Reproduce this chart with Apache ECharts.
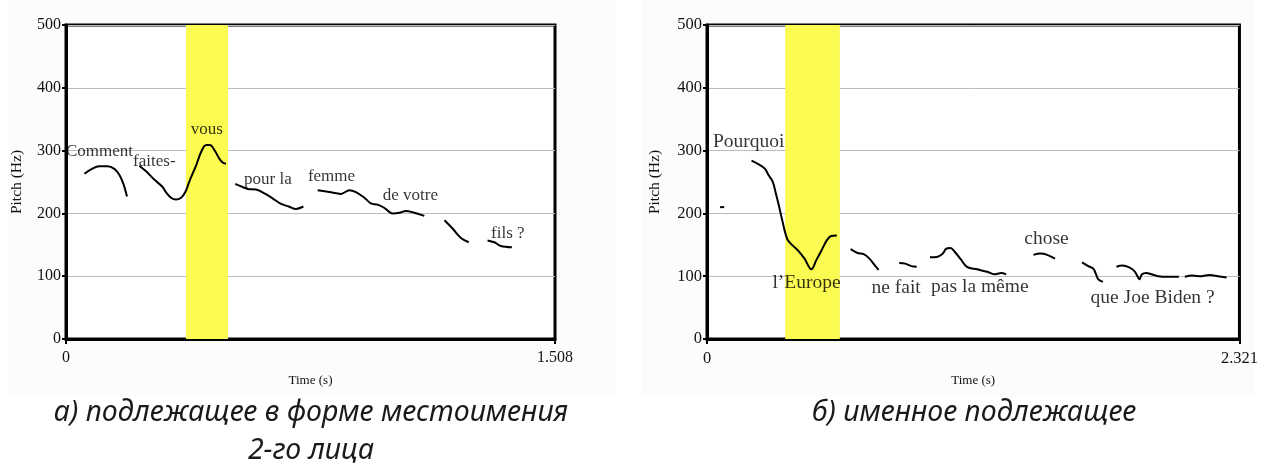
<!DOCTYPE html>
<html>
<head>
<meta charset="utf-8">
<script src="https://cdn.jsdelivr.net/npm/echarts@6/dist/echarts.min.js"></script>
<style>
html,body{margin:0;padding:0;background:#fff;}
#chart{width:1261px;height:475px;}
</style>
</head>
<body>
<div id="chart"></div>
<script>
// ---------- data: panel a ----------
const leftMaxT = 1.508;
const leftHighlight = [0.370, 0.4995];
const leftSeg1 = [[0.057,263],[0.077,270],[0.103,275],[0.128,275],[0.149,271],[0.164,262],[0.177,247],[0.188,227]];
const leftSeg2 = [[0.226,276],[0.247,267],[0.272,254],[0.298,242],[0.308,234],[0.324,225],[0.339,222],[0.355,225],[0.368,234],[0.382,253],[0.401,276],[0.416,297],[0.432,309],[0.444,309],[0.460,299],[0.473,287],[0.483,281],[0.493,279]];
const leftSeg3 = [[0.522,247],[0.540,243],[0.560,239],[0.586,238],[0.612,232],[0.637,224],[0.663,215],[0.687,211],[0.709,207],[0.732,211]];
const leftSeg4 = [[0.776,237],[0.812,234],[0.848,231],[0.874,237],[0.894,234],[0.920,225],[0.940,216],[0.961,214],[0.981,209],[1.007,200],[1.028,201],[1.048,204],[1.074,201],[1.105,196]];
const leftSeg5 = [[1.167,189],[1.192,176],[1.218,161],[1.242,154]];
const leftSeg6 = [[1.300,157],[1.321,154],[1.341,148],[1.375,146]];
const leftWords = ['Comment','faites-','vous','pour la','femme','de votre','fils ?'];
const leftWordT = [0.0, 0.207, 0.385, 0.549, 0.746, 0.977, 1.311];
const leftWordHz = [299, 283, 334, 254, 258, 228, 168];

// ---------- data: panel b ----------
const rightMaxT = 2.321;
const rightHighlight = [0.341, 0.579];
const rightSeg1 = [[0.057,210],[0.075,210]];
const rightSeg2 = [[0.194,284],[0.231,277],[0.253,271],[0.268,261],[0.286,251],[0.298,235],[0.313,213],[0.328,189],[0.350,159],[0.373,149],[0.399,140],[0.425,128],[0.455,111],[0.477,126],[0.499,141],[0.522,157],[0.541,164],[0.566,165]];
const rightSeg3 = [[0.626,143],[0.656,137],[0.683,135],[0.708,128],[0.730,118],[0.748,110]];
const rightSeg4 = [[0.838,121],[0.864,120],[0.891,116],[0.914,115]];
const rightSeg5 = [[0.972,130],[1.006,131],[1.028,136],[1.043,144],[1.061,145],[1.080,139],[1.106,127],[1.133,115],[1.177,111],[1.222,107],[1.252,103],[1.282,105],[1.304,103]];
const rightSeg6 = [[1.423,134],[1.453,136],[1.483,134],[1.517,128]];
const rightSeg7 = [[1.635,122],[1.662,116],[1.684,112],[1.696,103],[1.706,95],[1.726,91]];
const rightSeg8 = [[1.785,115],[1.811,117],[1.841,114],[1.863,108],[1.878,99],[1.885,95],[1.896,103],[1.915,105],[1.937,103],[1.967,100],[2.004,99],[2.057,99]];
const rightSeg9 = [[2.083,99],[2.116,101],[2.154,100],[2.191,102],[2.228,100],[2.265,98]];
const rightWords = ['Pourquoi','l\u2019Europe','ne fait','pas la même','chose','que Joe Biden ?'];
const rightWordT = [0.026, 0.285, 0.717, 0.977, 1.383, 1.672];
const rightWordHz = [314, 90, 81, 83, 159, 65];

const yTicks = [0,100,200,300,400,500];
const yName = 'Pitch (Hz)';
const xName = 'Time (s)';
const captionA1 = 'а) подлежащее в форме местоимения';
const captionA2 = '2-го лица';
const captionB = 'б) именное подлежащее';

// ---------- build ----------
const serif = '"Liberation Serif","Times New Roman",serif';
function xAxisFor(idx, maxT, fs){
  return {
    type:'value', gridIndex:idx, min:0, max:maxT, interval:maxT,
    name:xName, nameLocation:'middle', nameGap:35,
    nameTextStyle:{fontFamily:serif,fontSize:13,color:'#111'},
    axisLine:{show:true,onZero:false,lineStyle:{color:'#000',width:3}},
    axisTick:{show:true,length:5,lineStyle:{color:'#000',width:2}},
    axisLabel:{fontFamily:serif,fontSize:fs,color:'#111',margin:11,
      formatter:v=> v===0 ? '0' : maxT.toFixed(3)},
    splitLine:{show:false}
  };
}
function yAxisFor(idx, gap, fs){
  return {
    type:'value', gridIndex:idx, min:yTicks[0], max:yTicks[yTicks.length-1], interval:100,
    name:yName, nameLocation:'middle', nameGap:gap, nameRotate:90,
    nameTextStyle:{fontFamily:serif,fontSize:15.5,color:'#111'},
    axisLine:{show:true,lineStyle:{color:'#000',width:3}},
    axisTick:{show:true,length:4,lineStyle:{color:'#000',width:2}},
    axisLabel:{fontFamily:serif,fontSize:fs,color:'#111',margin:5},
    splitLine:{show:true,lineStyle:{color:'#bdbdbd',width:1}}
  };
}
function lineSeries(idx, data, highlight){
  const s = {
    type:'line', xAxisIndex:idx, yAxisIndex:idx, data:data,
    showSymbol:false, symbol:'none', smooth:0.35, silent:true,
    lineStyle:{color:'#000',width:2}, z:5
  };
  if (highlight){
    s.markArea = {silent:true, itemStyle:{color:'#fbfb52',opacity:1},
      data:[[{xAxis:highlight[0]},{xAxis:highlight[1]}]]};
  }
  return s;
}
function wordSeries(idx, words, ts, hzs, fs){
  return {
    type:'scatter', xAxisIndex:idx, yAxisIndex:idx, symbolSize:0, silent:true, z:6,
    data: words.map((w,i)=>({value:[ts[i], hzs[i]], name:w})),
    label:{show:true, position:'right', distance:0, formatter:p=>p.name,
      fontFamily:serif, fontSize:fs, color:'#000'}
  };
}

const series = [];
[leftSeg1,leftSeg2,leftSeg3,leftSeg4,leftSeg5,leftSeg6].forEach((d,i)=>series.push(lineSeries(0,d,i===0?leftHighlight:null)));
series.push(wordSeries(0,leftWords,leftWordT,leftWordHz,17));
[rightSeg1,rightSeg2,rightSeg3,rightSeg4,rightSeg5,rightSeg6,rightSeg7,rightSeg8,rightSeg9].forEach((d,i)=>series.push(lineSeries(1,d,i===0?rightHighlight:null)));
series.push(wordSeries(1,rightWords,rightWordT,rightWordHz,19.5));

const capFont = '"Noto Sans","Open Sans",sans-serif';
const option = {
  animation:false,
  backgroundColor:'#ffffff',
  grid:[
    {left:66, top:25, width:489, height:314, show:true, borderColor:'#000', borderWidth:3, backgroundColor:'#ffffff'},
    {left:707, top:25, width:537, height:314, show:true, borderColor:'#000', borderWidth:3, backgroundColor:'#ffffff'}
  ],
  xAxis:[xAxisFor(0,leftMaxT,16), xAxisFor(1,rightMaxT,16.5)],
  yAxis:[yAxisFor(0,41,16), yAxisFor(1,44,16.5)],
  series:series,
  graphic:[
    {type:'rect', z:-10, shape:{x:8,y:0,width:607,height:397}, style:{fill:'#fcfcfc'}},
    {type:'rect', z:-10, shape:{x:642,y:0,width:612,height:397}, style:{fill:'#fcfcfc'}},
    {type:'text', x:311, y:413, style:{text:captionA1, fontFamily:capFont, fontStyle:'italic', fontSize:28.5, fill:'#1a1a1a', textAlign:'center', textVerticalAlign:'middle'}},
    {type:'text', x:311, y:451, style:{text:captionA2, fontFamily:capFont, fontStyle:'italic', fontSize:28.5, fill:'#1a1a1a', textAlign:'center', textVerticalAlign:'middle'}},
    {type:'text', x:974, y:413, style:{text:captionB, fontFamily:capFont, fontStyle:'italic', fontSize:28.5, fill:'#1a1a1a', textAlign:'center', textVerticalAlign:'middle'}}
  ]
};
const chart = echarts.init(document.getElementById('chart'), null, {renderer:'canvas'});
chart.setOption(option);
</script>
</body>
</html>
